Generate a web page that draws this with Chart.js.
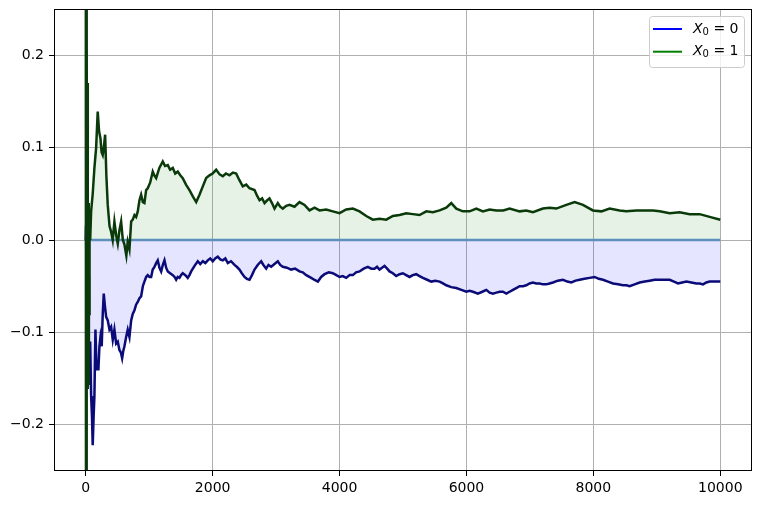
<!DOCTYPE html>
<html>
<head>
<meta charset="utf-8">
<script src="https://cdn.jsdelivr.net/npm/chart.js@4.4.1/dist/chart.umd.min.js"></script>
<style>
  body { margin: 0; background: #fff; }
  canvas { display: block; }
</style>
</head>
<body>
<canvas id="myChart" width="760" height="505"></canvas>
<script>
// tick values
const xTicks = [0, 2000, 4000, 6000, 8000, 10000];
const yTicks = [-0.2, -0.1, 0, 0.1, 0.2];

// running mean, start X0 = 0  ([step, value])
const startAt0 = [
  [0,0],[5,0.016],[10,-0.05],[15,0.01],[20,-0.07],[25,-0.02],[30,-0.1],[40,-0.04],[50,-0.12],[58,-0.14],
  [70,-0.11],[85,-0.169],[98,-0.19],[110,-0.222],[125,-0.19],[137,-0.169],[153,-0.097],[166,-0.13],[180,-0.14],[200,-0.14],
  [216,-0.115],[232,-0.105],[252,-0.115],[268,-0.08],[284,-0.058],[300,-0.07],[321,-0.083],[347,-0.087],[374,-0.097],[400,-0.094],
  [426,-0.108],[452,-0.097],[479,-0.112],[505,-0.11],[531,-0.119],[555,-0.122],[574,-0.128],[592,-0.12],[610,-0.115],[637,-0.105],
  [662,-0.097],[689,-0.105],[716,-0.087],[741,-0.08],[768,-0.076],[794,-0.07],[820,-0.067],[847,-0.063],[873,-0.061],[900,-0.05],
  [925,-0.045],[952,-0.04],[977,-0.038],[1004,-0.04],[1031,-0.04],[1056,-0.032],[1083,-0.029],[1110,-0.025],[1135,-0.022],[1162,-0.03],
  [1189,-0.034],[1215,-0.027],[1241,-0.022],[1267,-0.03],[1293,-0.034],[1330,-0.036],[1372,-0.038],[1400,-0.04],[1425,-0.043],[1450,-0.04],
  [1477,-0.041],[1503,-0.038],[1529,-0.036],[1570,-0.038],[1608,-0.041],[1635,-0.038],[1662,-0.034],[1715,-0.028],[1766,-0.023],[1805,-0.026],
  [1845,-0.023],[1885,-0.025],[1923,-0.022],[1962,-0.02],[2002,-0.023],[2040,-0.02],[2081,-0.018],[2120,-0.021],[2160,-0.022],[2200,-0.02],
  [2239,-0.025],[2290,-0.023],[2344,-0.027],[2380,-0.029],[2423,-0.032],[2460,-0.036],[2502,-0.04],[2540,-0.042],[2581,-0.043],[2620,-0.038],
  [2660,-0.032],[2710,-0.027],[2765,-0.023],[2800,-0.027],[2844,-0.031],[2880,-0.027],[2923,-0.029],[2975,-0.026],[3027,-0.023],[3065,-0.027],
  [3106,-0.029],[3170,-0.03],[3237,-0.032],[3300,-0.031],[3369,-0.034],[3420,-0.035],[3475,-0.038],[3553,-0.041],[3600,-0.043],[3659,-0.045],
  [3710,-0.04],[3764,-0.037],[3830,-0.035],[3894,-0.036],[3950,-0.038],[4000,-0.04],[4050,-0.039],[4105,-0.041],[4160,-0.038],[4210,-0.038],
  [4260,-0.035],[4315,-0.034],[4380,-0.031],[4446,-0.029],[4500,-0.031],[4551,-0.031],[4590,-0.029],[4630,-0.032],[4670,-0.03],[4709,-0.028],
  [4750,-0.031],[4788,-0.034],[4840,-0.036],[4893,-0.039],[4946,-0.037],[4998,-0.036],[5050,-0.038],[5103,-0.04],[5155,-0.038],[5208,-0.037],
  [5260,-0.039],[5314,-0.041],[5380,-0.043],[5445,-0.045],[5510,-0.044],[5577,-0.045],[5630,-0.047],[5682,-0.049],[5760,-0.051],[5840,-0.052],
  [5920,-0.054],[5998,-0.056],[6050,-0.055],[6103,-0.056],[6180,-0.058],[6250,-0.056],[6313,-0.054],[6365,-0.057],[6418,-0.058],[6470,-0.057],
  [6523,-0.056],[6575,-0.056],[6628,-0.058],[6680,-0.056],[6733,-0.054],[6785,-0.052],[6838,-0.05],[6890,-0.05],[6943,-0.049],[6995,-0.047],
  [7048,-0.046],[7100,-0.047],[7153,-0.047],[7205,-0.048],[7258,-0.048],[7310,-0.047],[7363,-0.046],[7440,-0.044],[7521,-0.043],[7590,-0.045],
  [7652,-0.046],[7720,-0.044],[7784,-0.043],[7860,-0.042],[7941,-0.041],[8020,-0.04],[8085,-0.042],[8152,-0.043],[8230,-0.045],[8310,-0.047],
  [8390,-0.048],[8467,-0.049],[8520,-0.049],[8572,-0.05],[8650,-0.048],[8730,-0.046],[8810,-0.045],[8887,-0.044],[8965,-0.043],[9045,-0.043],
  [9125,-0.043],[9203,-0.043],[9270,-0.045],[9334,-0.047],[9400,-0.046],[9466,-0.045],[9545,-0.046],[9623,-0.047],[9676,-0.047],[9729,-0.048],
  [9780,-0.046],[9833,-0.045],[9920,-0.045],[10000,-0.045]
];

// running mean, start X0 = 1
const startAt1 = [
  [0,0.6],[5,-0.45],[10,0.35],[15,-0.3],[20,0.22],[25,-0.16],[30,0.17],[35,-0.1],[40,0.04],[45,-0.157],
  [50,0.0],[55,-0.08],[60,0.02],[70,0.0],[85,0.031],[110,0.05],[137,0.078],[164,0.1],[189,0.139],[210,0.118],
  [232,0.11],[250,0.095],[268,0.092],[285,0.1],[306,0.114],[325,0.07],[347,0.038],[375,0.015],[400,0.009],[425,0.0],
  [452,0.02],[480,0.005],[505,-0.004],[530,0.01],[558,0.02],[585,0.0],[610,-0.005],[640,-0.017],[662,-0.002],[689,-0.01],
  [716,0.02],[741,0.022],[768,0.027],[794,0.025],[820,0.031],[847,0.043],[873,0.049],[900,0.041],[925,0.04],[952,0.054],
  [977,0.056],[1015,0.062],[1056,0.074],[1080,0.07],[1110,0.067],[1160,0.078],[1214,0.085],[1250,0.08],[1293,0.081],[1330,0.076],
  [1372,0.078],[1410,0.072],[1450,0.074],[1490,0.07],[1529,0.067],[1580,0.06],[1635,0.054],[1690,0.047],[1741,0.041],[1793,0.049],
  [1845,0.058],[1898,0.067],[1950,0.07],[2000,0.072],[2056,0.076],[2110,0.071],[2160,0.069],[2210,0.072],[2266,0.07],[2320,0.073],
  [2371,0.072],[2420,0.065],[2475,0.058],[2530,0.06],[2581,0.056],[2660,0.054],[2700,0.048],[2739,0.043],[2780,0.045],[2818,0.04],
  [2860,0.043],[2896,0.045],[2935,0.04],[2975,0.034],[3027,0.04],[3065,0.036],[3106,0.034],[3160,0.037],[3212,0.038],[3290,0.036],
  [3369,0.041],[3448,0.038],[3527,0.032],[3606,0.035],[3685,0.032],[3790,0.033],[3894,0.031],[4000,0.029],[4105,0.033],[4210,0.034],
  [4315,0.031],[4421,0.026],[4525,0.022],[4630,0.023],[4736,0.022],[4840,0.026],[4946,0.027],[5052,0.029],[5155,0.028],[5261,0.027],
  [5367,0.031],[5471,0.03],[5577,0.032],[5682,0.035],[5761,0.04],[5840,0.034],[5944,0.031],[6050,0.031],[6155,0.034],[6259,0.031],
  [6365,0.033],[6470,0.032],[6580,0.032],[6680,0.034],[6838,0.031],[6943,0.032],[7048,0.03],[7205,0.034],[7311,0.035],[7416,0.034],
  [7574,0.038],[7705,0.041],[7836,0.038],[7993,0.032],[8126,0.031],[8257,0.034],[8414,0.032],[8520,0.031],[8677,0.032],[8835,0.032],
  [8939,0.032],[9045,0.031],[9203,0.029],[9360,0.03],[9518,0.028],[9676,0.028],[9833,0.025],[10000,0.022]
];

// reference line at zero
const zeroLine = [[0, 0], [10000, 0]];

const toPoints = arr => arr.map(p => ({ x: p[0], y: p[1] }));

const FONT = 'DejaVu Sans';

// matplotlib-like frame and legend box
const mplExtras = {
  id: 'mplExtras',
  afterDraw(chart) {
    const { ctx, chartArea } = chart;
    ctx.save();
    ctx.strokeStyle = '#000';
    ctx.lineWidth = 1;
    ctx.strokeRect(chartArea.left + 0.5, chartArea.top + 0.5,
      chartArea.right - chartArea.left - 1, chartArea.bottom - chartArea.top - 1);

    const boxW = 95, boxH = 51;
    const bx = chartArea.right - 8 - boxW;
    const by = chartArea.top + 7;
    ctx.beginPath();
    ctx.roundRect(bx + 0.5, by + 0.5, boxW, boxH, 3);
    ctx.fillStyle = 'rgba(255,255,255,0.8)';
    ctx.fill();
    ctx.strokeStyle = '#cccccc';
    ctx.stroke();

    const items = chart.data.datasets
      .filter(d => d.legendColor)
      .sort((a, b) => a.legendRank - b.legendRank);
    items.forEach((d, i) => {
      const y = by + 13 + i * 22.7;
      ctx.strokeStyle = d.legendColor;
      ctx.lineWidth = 2;
      ctx.beginPath();
      ctx.moveTo(bx + 4, y);
      ctx.lineTo(bx + 33, y);
      ctx.stroke();

      const tx = bx + 44;
      ctx.fillStyle = '#000';
      ctx.textBaseline = 'middle';
      ctx.font = 'italic 14px "' + FONT + '"';
      ctx.fillText('X', tx, y);
      let w = ctx.measureText('X').width;
      ctx.font = '10px "' + FONT + '"';
      ctx.fillText('0', tx + w, y + 3);
      w += ctx.measureText('0').width;
      ctx.font = '14px "' + FONT + '"';
      ctx.fillText(' = ' + d.label.split('= ')[1], tx + w, y);
    });
    ctx.restore();
  }
};

document.addEventListener('DOMContentLoaded', () => {
  const canvas = document.getElementById('myChart');
  const ctx = canvas.getContext('2d');

  new Chart(ctx, {
    type: 'line',
    data: {
      datasets: [
        {
          label: 'X₀ = 1',
          data: toPoints(startAt1),
          borderColor: '#0a3a0a',
          legendColor: '#008000',
          legendRank: 1,
          backgroundColor: 'rgba(0,128,0,0.1)',
          fill: 'origin',
          borderWidth: 2.5,
          order: 0
        },
        {
          label: 'X₀ = 0',
          data: toPoints(startAt0),
          borderColor: '#0a0a78',
          legendColor: '#0000ff',
          legendRank: 0,
          backgroundColor: 'rgba(0,0,255,0.1)',
          fill: 'origin',
          borderWidth: 2.5,
          order: 1
        },
        {
          label: 'zero',
          data: toPoints(zeroLine),
          borderColor: '#5f90bd',
          borderWidth: 2.5,
          fill: false,
          order: 2
        }
      ]
    },
    options: {
      responsive: false,
      animation: false,
      devicePixelRatio: 1,
      elements: { point: { radius: 0 }, line: { tension: 0 } },
      layout: { padding: { top: 9, right: 8, left: 0, bottom: 0 } },
      plugins: {
        legend: { display: false },
        tooltip: { enabled: false },
        filler: { drawTime: 'beforeDatasetsDraw' }
      },
      scales: {
        x: {
          type: 'linear',
          min: -500,
          max: 10500,
          afterBuildTicks: s => { s.ticks = xTicks.map(v => ({ value: v })); },
          afterFit: s => { s.height = 34; s.paddingLeft = 0; s.paddingRight = 0; },
          border: { display: false },
          grid: { color: '#b0b0b0', lineWidth: 1, tickColor: '#000', tickLength: 5 },
          ticks: {
            color: '#000',
            font: { family: FONT, size: 14 },
            padding: 4,
            maxRotation: 0,
            callback: v => String(v)
          }
        },
        y: {
          type: 'linear',
          min: -0.25,
          max: 0.25,
          afterBuildTicks: s => { s.ticks = yTicks.map(v => ({ value: v })); },
          afterFit: s => { s.width = 54; s.paddingTop = 0; s.paddingBottom = 0; },
          border: { display: false },
          grid: { color: '#b0b0b0', lineWidth: 1, tickColor: '#000', tickLength: 5 },
          ticks: {
            color: '#000',
            font: { family: FONT, size: 14 },
            padding: 5,
            callback: v => v.toFixed(1).replace('-', '\u2212')
          }
        }
      }
    },
    plugins: [mplExtras]
  });
});
</script>
</body>
</html>
